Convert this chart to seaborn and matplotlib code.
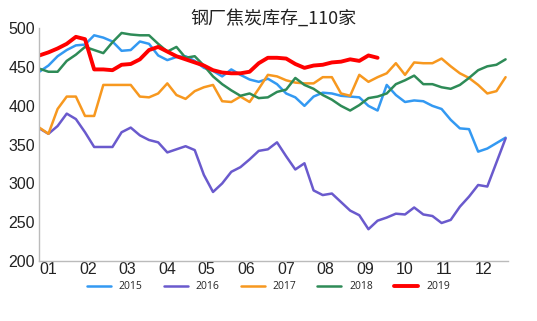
import numpy as np
import pandas as pd
import matplotlib
matplotlib.use("Agg")
import matplotlib.pyplot as plt
import seaborn as sns

title = "钢厂焦炭库存_110家"
month_labels = ["01", "02", "03", "04", "05", "06", "07", "08", "09", "10", "11", "12"]
years = ["2015", "2016", "2017", "2018", "2019"]

v2015 = [444, 452, 464, 472, 478, 479, 491, 488, 483, 471, 472, 483, 480, 465, 459, 463,
         464, 458, 449, 445, 438, 447, 440, 434, 431, 435, 428, 416, 411, 400, 412, 417,
         416, 413, 412, 411, 400, 394, 427, 414, 405, 407, 406, 400, 396, 382, 371, 370,
         341, 345, 352, 359]
v2016 = [371, 364, 374, 390, 383, 366, 347, 347, 347, 366, 372, 362, 356, 353, 340, 344,
         348, 343, 311, 289, 300, 315, 321, 331, 342, 344, 353, 335, 318, 326, 291, 285,
         287, 276, 265, 259, 241, 252, 256, 261, 260, 269, 260, 258, 249, 253, 270, 283,
         298, 296, 327, 358]
v2017 = [372, 364, 396, 412, 412, 387, 387, 427, 427, 427, 427, 412, 411, 416, 429, 414,
         409, 419, 424, 427, 406, 405, 412, 405, 422, 440, 438, 433, 430, 429, 429, 437,
         437, 416, 413, 440, 431, 437, 442, 455, 440, 456, 455, 455, 461, 451, 442, 436,
         427, 416, 419, 437]
v2018 = [448, 444, 444, 458, 466, 476, 472, 468, 482, 494, 492, 491, 491, 480, 470, 476,
         462, 464, 452, 438, 428, 420, 413, 416, 410, 411, 418, 421, 436, 427, 422, 414,
         408, 400, 394, 401, 410, 412, 416, 428, 433, 439, 428, 428, 424, 422, 427, 436,
         446, 451, 453, 460]
v2019 = [465, 469, 474, 480, 489, 486, 447, 447, 446, 453, 454, 460, 472, 476, 470, 464,
         460, 456, 452, 446, 443, 442, 442, 444, 455, 462, 462, 461, 454, 449, 452, 453,
         456, 457, 460, 458, 465, 462]

series = [v2015, v2016, v2017, v2018, v2019]
colors = {"2015": "#3399f2", "2016": "#6a5acd", "2017": "#f7981f", "2018": "#2e8b57", "2019": "#ff0000"}
widths = {"2015": 1.8, "2016": 1.8, "2017": 1.8, "2018": 1.8, "2019": 2.8}

frames = []
for y, vals in zip(years, series):
    frames.append(pd.DataFrame({"week": np.arange(len(vals)), "value": vals, "year": y}))
df = pd.concat(frames, ignore_index=True)

sns.set_theme(style="white")
plt.rcParams["font.family"] = ["Liberation Sans", "Noto Sans CJK SC", "DejaVu Sans"]

fig = plt.figure(figsize=(5.37, 3.21), dpi=100)
ax = fig.add_axes([0.0732, 0.1869, 0.8734, 0.7249])

for y in years:
    sns.lineplot(data=df[df["year"] == y], x="week", y="value", color=colors[y],
                 linewidth=widths[y], ax=ax, label=y)

ax.set_xlim(0, 51.3)
ax.set_ylim(200, 500)
ax.set_yticks([200, 250, 300, 350, 400, 450, 500])
month_pos = [i * 52 / 12 for i in range(12)]
ax.set_xticks(month_pos)
ax.set_xticklabels(month_labels, ha="left")
ax.set_xlabel("")
ax.set_ylabel("")
for s in ["top", "right"]:
    ax.spines[s].set_visible(False)
for s in ["left", "bottom"]:
    ax.spines[s].set_color("#bbbbbb")
    ax.spines[s].set_linewidth(1.0)
ax.tick_params(axis="y", direction="out", length=2, width=1, color="#333333",
               labelsize=11.5, pad=1, labelcolor="#222222")
ax.tick_params(axis="x", direction="in", length=2, width=1.2, color="#333333",
               labelsize=11.5, pad=1, labelcolor="#222222")

ax.set_title(title, fontsize=13, family=["Noto Sans CJK SC", "DejaVu Sans"], pad=3, color="#222222")

ax.get_legend().remove()
handles, labels = ax.get_legend_handles_labels()
fig.legend(handles, labels, loc="center", bbox_to_anchor=(0.5, 0.106), ncol=5,
           frameon=False, handlelength=2.3, columnspacing=2.0,
           handletextpad=0.8, prop={"family": "Open Sans", "size": 7.5})

fig.savefig("out.png", dpi=100)
